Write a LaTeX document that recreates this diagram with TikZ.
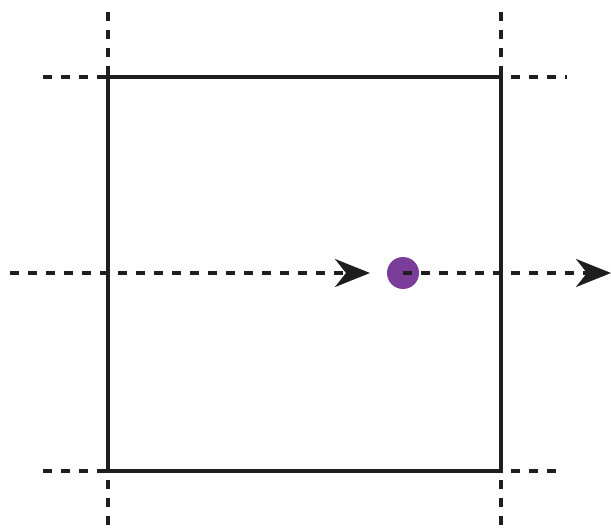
\documentclass[tikz,border=0pt]{standalone}
\usetikzlibrary{arrows.meta}
\definecolor{ink}{RGB}{30,30,30}
\definecolor{dotpurple}{RGB}{122,62,154}
\tikzset{
  guide/.style={draw=ink, line width=3.2pt, dash pattern=on 9pt off 9pt},
  frame/.style={draw=ink, line width=4.4pt, line cap=rect},
  flow/.style={guide, -{Stealth[length=35pt,width=28pt,inset=11pt]}},
  particle/.style={circle, fill=dotpurple, minimum size=32pt, inner sep=0pt}
}
\begin{document}
\begin{tikzpicture}[x=1pt,y=-1pt]
\useasboundingbox (0,0) rectangle (611,532);
% corners
\coordinate (tl) at (108,77);
\coordinate (tr) at (501,77);
\coordinate (bl) at (108,471);
\coordinate (br) at (501,471);
% guide ends
\coordinate (lt) at (108,12);
\coordinate (lb) at (108,532);
\coordinate (rt) at (501,12);
\coordinate (rb) at (501,532);
\coordinate (tle) at (43,77);
\coordinate (tre) at (567,77);
\coordinate (ble) at (43,471);
\coordinate (bre) at (561,471);
\coordinate (start) at (10,273);
\coordinate (tip) at (370,273);
\coordinate (end) at (611,273);
% guides
\draw[guide] (lt) -- (lb);
\draw[guide] (rt) -- (rb);
\draw[guide] (tle) -- (tre);
\draw[guide] (ble) -- (bre);
% frame
\draw[frame] (tl) -- (tr) -- (br) -- (bl) -- cycle;
% flow
\draw[flow] (start) -- (tip);
\node[particle] (p) at (403,273) {};
\draw[flow] (p.center) -- (end);
\end{tikzpicture}
\end{document}
